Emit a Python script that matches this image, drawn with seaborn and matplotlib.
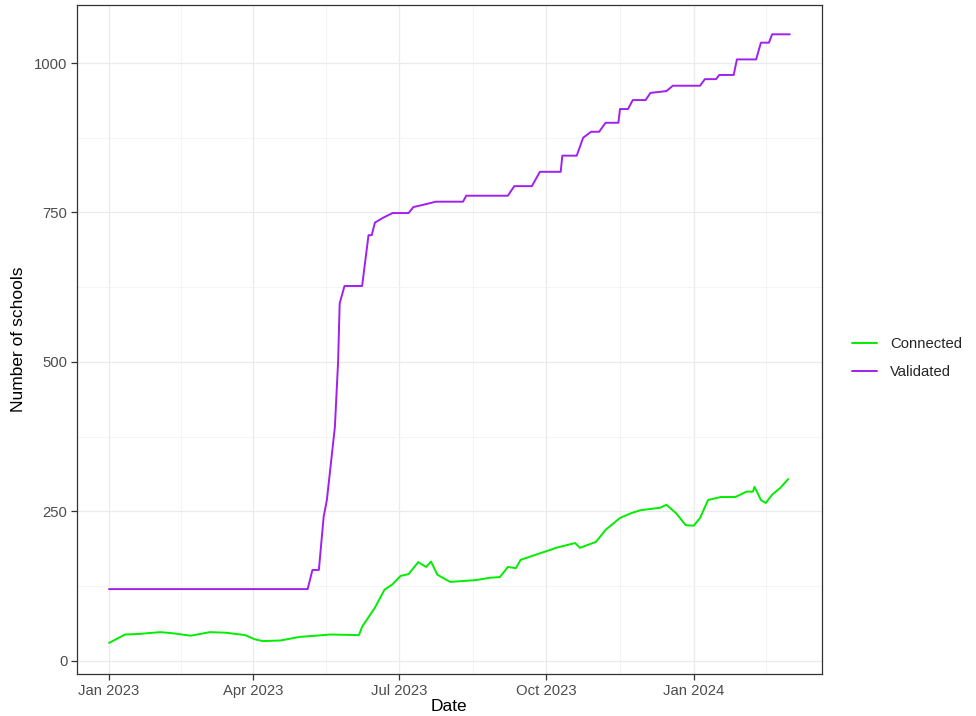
import numpy as np
import pandas as pd
import matplotlib
matplotlib.use("Agg")
import matplotlib.pyplot as plt
import matplotlib.dates as mdates
from matplotlib.ticker import FixedLocator
import seaborn as sns

# ---- data ----
validated_dates = ["2023-01-01", "2023-05-05", "2023-05-08", "2023-05-12", "2023-05-15",
                   "2023-05-17", "2023-05-22", "2023-05-24", "2023-05-25", "2023-05-28",
                   "2023-06-08", "2023-06-12", "2023-06-14", "2023-06-16", "2023-06-21",
                   "2023-06-27", "2023-07-07", "2023-07-10", "2023-07-18", "2023-07-24",
                   "2023-08-10", "2023-08-12", "2023-09-07", "2023-09-11", "2023-09-22",
                   "2023-09-27", "2023-10-10", "2023-10-11", "2023-10-20", "2023-10-24",
                   "2023-10-29", "2023-11-03", "2023-11-07", "2023-11-15", "2023-11-16",
                   "2023-11-21", "2023-11-24", "2023-12-02", "2023-12-05", "2023-12-15",
                   "2023-12-19", "2024-01-05", "2024-01-08", "2024-01-15", "2024-01-17",
                   "2024-01-26", "2024-01-28", "2024-02-09", "2024-02-12", "2024-02-17",
                   "2024-02-19", "2024-03-01"]
validated_values = [120, 120, 152, 152, 241,
                    269, 391, 500, 598, 627,
                    627, 712, 712, 733, 741,
                    749, 749, 759, 764, 768,
                    768, 778, 778, 794, 794,
                    818, 818, 845, 845, 875,
                    885, 885, 900, 900, 923,
                    923, 938, 938, 950, 953,
                    962, 962, 973, 973, 980,
                    980, 1006, 1006, 1034, 1034,
                    1048, 1048]

connected_dates = ["2023-01-01", "2023-01-06", "2023-01-11", "2023-01-20", "2023-02-02",
                   "2023-02-10", "2023-02-21", "2023-03-05", "2023-03-15", "2023-03-27",
                   "2023-04-02", "2023-04-07", "2023-04-18", "2023-04-30", "2023-05-10",
                   "2023-05-19", "2023-06-06", "2023-06-08", "2023-06-16", "2023-06-22",
                   "2023-06-27", "2023-07-02", "2023-07-07", "2023-07-13", "2023-07-18",
                   "2023-07-21", "2023-07-25", "2023-08-02", "2023-08-18", "2023-08-27",
                   "2023-09-02", "2023-09-07", "2023-09-12", "2023-09-15", "2023-09-25",
                   "2023-10-04", "2023-10-07", "2023-10-19", "2023-10-22", "2023-11-01",
                   "2023-11-07", "2023-11-16", "2023-11-23", "2023-11-29", "2023-12-11",
                   "2023-12-15", "2023-12-21", "2023-12-27", "2024-01-01", "2024-01-05",
                   "2024-01-10", "2024-01-18", "2024-01-27", "2024-02-03", "2024-02-07",
                   "2024-02-08", "2024-02-12", "2024-02-15", "2024-02-19", "2024-02-24",
                   "2024-02-29"]
connected_values = [30, 37, 44, 45, 48,
                    46, 42, 48, 47, 43,
                    36, 33, 34, 40, 42,
                    44, 43, 57, 89, 119,
                    128, 142, 145, 165, 157,
                    166, 144, 132, 135, 139,
                    140, 157, 155, 169, 178,
                    186, 189, 197, 189, 199,
                    219, 239, 247, 252, 256,
                    261, 247, 227, 226, 239,
                    269, 274, 274, 283, 283,
                    291, 269, 264, 278, 289,
                    304]

series_names = ["Connected", "Validated"]
series_colors = {"Connected": "#00EE00", "Validated": "#A020F0"}
x_tick_dates = ["2023-01-01", "2023-04-01", "2023-07-01", "2023-10-01", "2024-01-01"]
x_tick_labels = ["Jan 2023", "Apr 2023", "Jul 2023", "Oct 2023", "Jan 2024"]
y_ticks = [0, 250, 500, 750, 1000]

df = pd.concat([
    pd.DataFrame({"Date": pd.to_datetime(connected_dates), "value": connected_values,
                  "series": "Connected"}),
    pd.DataFrame({"Date": pd.to_datetime(validated_dates), "value": validated_values,
                  "series": "Validated"}),
], ignore_index=True)

sns.set_theme(style="white")
plt.rcParams["font.family"] = ["Liberation Sans", "DejaVu Sans"]

fig = plt.figure(figsize=(9.76, 7.16), dpi=100)
ax = fig.add_axes([0.0789, 0.0587, 0.842 - 0.0789, 0.993 - 0.0587])

sns.lineplot(data=df, x="Date", y="value", hue="series", hue_order=series_names,
             palette=series_colors, linewidth=1.4, ax=ax, estimator=None, sort=True)

# axes limits
ax.set_xlim(pd.Timestamp("2022-12-12"), pd.Timestamp("2024-03-21"))
ax.set_ylim(-22, 1097)

# ticks
xt = pd.to_datetime(x_tick_dates)
ax.set_xticks(xt)
ax.set_xticklabels(x_tick_labels)
ax.set_yticks(y_ticks)
ax.set_yticklabels([str(v) for v in y_ticks])
xt_num = mdates.date2num(xt)
minor_x = list((xt_num[:-1] + xt_num[1:]) / 2) + [xt_num[0] - (xt_num[1] - xt_num[0]) / 2,
                                                  xt_num[-1] + (xt_num[1] - xt_num[0]) / 2]
ax.xaxis.set_minor_locator(FixedLocator(minor_x))
ax.yaxis.set_minor_locator(FixedLocator([125, 375, 625, 875]))

ax.grid(which="major", color="#EBEBEB", linewidth=0.9)
ax.grid(which="minor", color="#F3F3F3", linewidth=0.6)
ax.set_axisbelow(True)

ax.tick_params(axis="both", which="major", bottom=True, left=True, direction="out",
               length=4, width=0.9, color="#333333",
               labelcolor="#4D4D4D", labelsize=10.7, pad=3)
ax.tick_params(axis="both", which="minor", length=0)
for s in ax.spines.values():
    s.set_visible(True)
    s.set_color("#333333")
    s.set_linewidth(0.9)

ax.set_xlabel("Date", fontsize=12.5, color="black", labelpad=1)
ax.set_ylabel("Number of schools", fontsize=12.5, color="black", labelpad=6)

# legend
handles, labels = ax.get_legend_handles_labels()
ax.legend(handles=handles, labels=labels, loc="center left", bbox_to_anchor=(1.022, 0.472),
          frameon=False, fontsize=10.7, handlelength=1.7, handletextpad=0.9,
          labelspacing=0.95, title=None)

fig.savefig("out.png", dpi=100)
